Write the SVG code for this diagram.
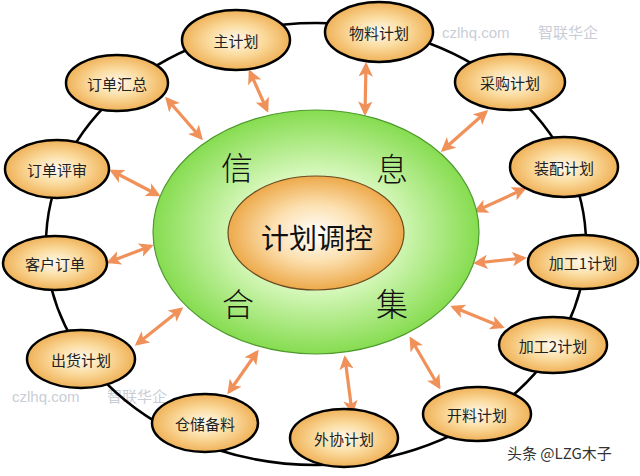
<svg xmlns="http://www.w3.org/2000/svg" width="640" height="476" viewBox="0 0 640 476">
<defs>
<radialGradient id="gNode" cx="50%" cy="50%" r="55%">
<stop offset="0" stop-color="#fffaf0"/>
<stop offset="0.45" stop-color="#fbdca0"/>
<stop offset="1" stop-color="#eda94a"/>
</radialGradient>
<radialGradient id="gGreen" cx="50%" cy="50%" r="50%">
<stop offset="0" stop-color="#ffffff"/>
<stop offset="0.5" stop-color="#d4f7b8"/>
<stop offset="1" stop-color="#86dc50"/>
</radialGradient>
<radialGradient id="gCore" cx="50%" cy="50%" r="50%">
<stop offset="0" stop-color="#ffffff"/>
<stop offset="0.5" stop-color="#fce0b0"/>
<stop offset="1" stop-color="#eda94a"/>
</radialGradient>
<marker id="ah" viewBox="0 0 10 10" refX="8" refY="5" markerWidth="4.5" markerHeight="4.5" orient="auto-start-reverse">
<path d="M0,0 L10,5 L0,10 L2.5,5 z" fill="#f0915a"/>
</marker>
</defs>
<style>
.node ellipse{fill:url(#gNode);stroke:#000;stroke-width:2.5}
.node text{font-family:"Noto Sans CJK SC","Noto Sans",sans-serif;font-size:15px;fill:#222;text-anchor:middle;dominant-baseline:central}
.arr{stroke:#f0915a;stroke-width:3.2;fill:none;marker-start:url(#ah);marker-end:url(#ah)}
.big{font-family:"Noto Sans CJK SC",sans-serif;font-size:32px;font-weight:300;fill:#111;text-anchor:middle;dominant-baseline:central}
.wm{font-family:"Liberation Sans","Noto Sans CJK SC",sans-serif;font-size:15px;fill:#c9ced6}
</style>
<rect width="640" height="476" fill="#ffffff"/>
<text class="wm" x="442" y="38">czlhq.com</text>
<text class="wm" x="538" y="38">智联华企</text>
<text class="wm" x="12" y="402">czlhq.com</text>
<text class="wm" x="107" y="402">智联华企</text>
<g id="connectors">
<ellipse cx="316" cy="244" rx="270" ry="221" fill="none" stroke="#000" stroke-width="2.5"/>
<line class="arr" x1="250" y1="72" x2="267" y2="110"/>
<line class="arr" x1="167" y1="99" x2="201" y2="138"/>
<line class="arr" x1="112" y1="171" x2="158" y2="195"/>
<line class="arr" x1="109" y1="262" x2="151" y2="246"/>
<line class="arr" x1="137" y1="344" x2="181" y2="309"/>
<line class="arr" x1="229" y1="392" x2="257" y2="352"/>
<line class="arr" x1="352" y1="412" x2="345" y2="358"/>
<line class="arr" x1="439" y1="387" x2="411" y2="339"/>
<line class="arr" x1="502" y1="327" x2="453" y2="307"/>
<line class="arr" x1="524" y1="258" x2="476" y2="263"/>
<line class="arr" x1="524" y1="189" x2="476" y2="211"/>
<line class="arr" x1="486" y1="112" x2="443" y2="150"/>
<line class="arr" x1="366" y1="65" x2="365" y2="113"/>
</g>
<g id="info">
<ellipse cx="316" cy="232" rx="163" ry="122" fill="url(#gGreen)" stroke="#4e9a2e" stroke-width="1.2"/>
<text class="big" x="237" y="166">信</text>
<text class="big" x="392" y="167">息</text>
<text class="big" x="238" y="302">合</text>
<text class="big" x="392" y="302">集</text>
</g>
<g id="core">
<ellipse cx="316" cy="233" rx="88" ry="57" fill="url(#gCore)" stroke="#6a4a20" stroke-width="1.2"/>
<text class="big" x="317" y="237" style="font-size:28px;font-weight:400">计划调控</text>
</g>
<g id="n1" class="node"><ellipse cx="236" cy="40" rx="54" ry="30"/><text x="236" y="40">主计划</text></g>
<g id="n2" class="node"><ellipse cx="117" cy="83" rx="51" ry="28"/><text x="117" y="83">订单汇总</text></g>
<g id="n3" class="node"><ellipse cx="57" cy="169" rx="52" ry="29"/><text x="57" y="169">订单评审</text></g>
<g id="n4" class="node"><ellipse cx="55" cy="263" rx="52" ry="27"/><text x="55" y="263">客户订单</text></g>
<g id="n5" class="node"><ellipse cx="81" cy="359" rx="54" ry="29"/><text x="81" y="359">出货计划</text></g>
<g id="n6" class="node"><ellipse cx="205" cy="423" rx="53" ry="29"/><text x="205" y="423">仓储备料</text></g>
<g id="n7" class="node"><ellipse cx="344" cy="438" rx="54" ry="29"/><text x="344" y="438">外协计划</text></g>
<g id="n8" class="node"><ellipse cx="477" cy="414" rx="54" ry="27"/><text x="477" y="414">开料计划</text></g>
<g id="n9" class="node"><ellipse cx="553" cy="345" rx="54" ry="28"/><text x="553" y="345">加工2计划</text></g>
<g id="n10" class="node"><ellipse cx="583" cy="262" rx="55" ry="27"/><text x="583" y="262">加工1计划</text></g>
<g id="n11" class="node"><ellipse cx="564" cy="167" rx="54" ry="30"/><text x="564" y="167">装配计划</text></g>
<g id="n12" class="node"><ellipse cx="510" cy="82" rx="55" ry="28"/><text x="510" y="82">采购计划</text></g>
<g id="n13" class="node"><ellipse cx="379" cy="32" rx="54" ry="30"/><text x="379" y="32">物料计划</text></g>
<text x="507" y="459" style="font-family:'Noto Sans CJK SC',sans-serif;font-size:15px;fill:#333">头条 @LZG木子</text>
</svg>
